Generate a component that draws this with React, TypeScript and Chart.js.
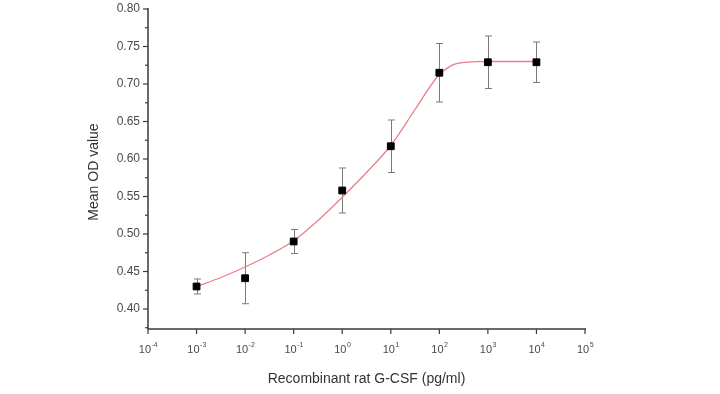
import React, { useEffect, useRef } from "react";
import { Chart, registerables } from "chart.js";

Chart.register(...registerables);

// Measured points (dose in pg/ml, mean OD, error half-width)
const doses = [1e-3, 1e-2, 1e-1, 1, 10, 100, 1000, 10000];
const meanOD = [0.430, 0.441, 0.490, 0.558, 0.617, 0.715, 0.729, 0.729];
const errorOD = [0.010, 0.034, 0.016, 0.030, 0.035, 0.039, 0.035, 0.027];

// Fitted sigmoid curve
const fitDoses = [1e-3, 3.16e-3, 1e-2, 3.16e-2, 1e-1, 3.16e-1, 1, 3.16, 10, 31.6, 100, 141, 200, 316, 562, 1000, 3160, 10000];
const fitOD = [0.430, 0.442, 0.456, 0.472, 0.491, 0.518, 0.549, 0.582, 0.618, 0.666, 0.713, 0.7205, 0.7262, 0.7288, 0.7297, 0.730, 0.730, 0.730];

const xTickExponents = [-4, -3, -2, -1, 0, 1, 2, 3, 4, 5];
const yTicks = [0.40, 0.45, 0.50, 0.55, 0.60, 0.65, 0.70, 0.75, 0.80];
const yMinorTicks = [0.375, 0.425, 0.475, 0.525, 0.575, 0.625, 0.675, 0.725, 0.775];

const FONT = "'Liberation Sans', Arial, Helvetica, sans-serif";
const AXIS_COLOR = "#3a3a3a";
const LABEL_COLOR = "#4a4a4a";

const errorBarPlugin = {
  id: "errorBars",
  beforeDatasetsDraw(chart: any) {
    const { ctx, scales } = chart;
    const x = scales.x, y = scales.y;
    ctx.save();
    ctx.strokeStyle = "#7a7a7a";
    ctx.lineWidth = 1;
    doses.forEach((d, i) => {
      const px = Math.round(x.getPixelForValue(d)) + 0.5;
      const top = y.getPixelForValue(meanOD[i] + errorOD[i]);
      const bot = y.getPixelForValue(meanOD[i] - errorOD[i]);
      ctx.beginPath();
      ctx.moveTo(px, top);
      ctx.lineTo(px, bot);
      ctx.moveTo(px - 3.5, top);
      ctx.lineTo(px + 3.5, top);
      ctx.moveTo(px - 3.5, bot);
      ctx.lineTo(px + 3.5, bot);
      ctx.stroke();
    });
    ctx.restore();
  },
};

const axesPlugin = {
  id: "originAxes",
  afterDraw(chart: any) {
    const { ctx, scales, chartArea } = chart;
    const x = scales.x, y = scales.y;
    const left = chartArea.left, bottom = chartArea.bottom;
    ctx.save();
    ctx.strokeStyle = AXIS_COLOR;
    ctx.lineWidth = 1.5;
    ctx.beginPath();
    ctx.moveTo(left, chartArea.top - 1);
    ctx.lineTo(left, bottom);
    ctx.lineTo(chartArea.right + 1, bottom);
    ctx.stroke();
    ctx.lineWidth = 1.2;
    ctx.fillStyle = LABEL_COLOR;
    ctx.font = `12px ${FONT}`;
    ctx.textAlign = "right";
    ctx.textBaseline = "middle";
    yTicks.forEach((v) => {
      const py = y.getPixelForValue(v);
      ctx.beginPath();
      ctx.moveTo(left - 5, py);
      ctx.lineTo(left, py);
      ctx.stroke();
      ctx.fillText(v.toFixed(2), left - 8, py);
    });
    yMinorTicks.forEach((v) => {
      const py = y.getPixelForValue(v);
      if (py > bottom) return;
      ctx.beginPath();
      ctx.moveTo(left - 3, py);
      ctx.lineTo(left, py);
      ctx.stroke();
    });
    xTickExponents.forEach((e) => {
      const px = x.getPixelForValue(Math.pow(10, e));
      ctx.beginPath();
      ctx.moveTo(px, bottom);
      ctx.lineTo(px, bottom + 5);
      ctx.stroke();
      ctx.font = `11px ${FONT}`;
      const base = "10";
      const exp = String(e);
      const wb = ctx.measureText(base).width;
      ctx.font = `7px ${FONT}`;
      const we = ctx.measureText(exp).width;
      const start = px - (wb + we) / 2;
      ctx.textAlign = "left";
      ctx.textBaseline = "alphabetic";
      ctx.font = `11px ${FONT}`;
      ctx.fillText(base, start, bottom + 24);
      ctx.font = `7px ${FONT}`;
      ctx.fillText(exp, start + wb + 0.5, bottom + 18);
    });
    ctx.fillStyle = "#333";
    ctx.font = `14px ${FONT}`;
    ctx.textAlign = "center";
    ctx.textBaseline = "middle";
    ctx.fillText("Recombinant rat G-CSF (pg/ml)", (chartArea.left + chartArea.right) / 2, bottom + 50);
    ctx.save();
    ctx.translate(94, (chartArea.top + chartArea.bottom) / 2 + 3);
    ctx.rotate(-Math.PI / 2);
    ctx.fillText("Mean OD value", 0, 0);
    ctx.restore();
    ctx.restore();
  },
};

export default function App() {
  const canvasRef = useRef<HTMLCanvasElement>(null);

  useEffect(() => {
    const canvas = canvasRef.current;
    if (!canvas) return;
    const chart = new Chart(canvas, {
      type: "scatter",
      data: {
        datasets: [
          {
            type: "line",
            label: "Fit",
            data: fitDoses.map((d, i) => ({ x: d, y: fitOD[i] })),
            borderColor: "#e8808a",
            borderWidth: 1.3,
            pointRadius: 0,
            cubicInterpolationMode: "monotone",
            fill: false,
            order: 2,
          } as any,
          {
            label: "Mean OD",
            data: doses.map((d, i) => ({ x: d, y: meanOD[i] })),
            backgroundColor: "#000",
            borderColor: "#000",
            pointStyle: "rect",
            pointRadius: 4.8,
            order: 1,
          },
        ],
      },
      options: {
        animation: false,
        responsive: false,
        maintainAspectRatio: false,
        layout: { padding: { top: 9, right: 135, left: 0, bottom: 0 } },
        plugins: { legend: { display: false }, tooltip: { enabled: false } },
        scales: {
          x: {
            type: "logarithmic",
            min: 1e-4,
            max: 1e5,
            grid: { display: false },
            border: { display: false },
            ticks: { display: false },
            afterFit: (s: any) => { s.height = 65; },
          },
          y: {
            type: "linear",
            min: 0.3733,
            max: 0.80,
            grid: { display: false },
            border: { display: false },
            ticks: { display: false },
            afterFit: (s: any) => { s.width = 148; },
          },
        },
      },
      plugins: [errorBarPlugin, axesPlugin],
    });
    return () => chart.destroy();
  }, []);

  return (
    <div style={{ position: "fixed", left: 0, top: 0, width: 720, height: 394, background: "#fff" }}>
      <canvas ref={canvasRef} width={720} height={394} style={{ width: 720, height: 394 }} />
    </div>
  );
}
